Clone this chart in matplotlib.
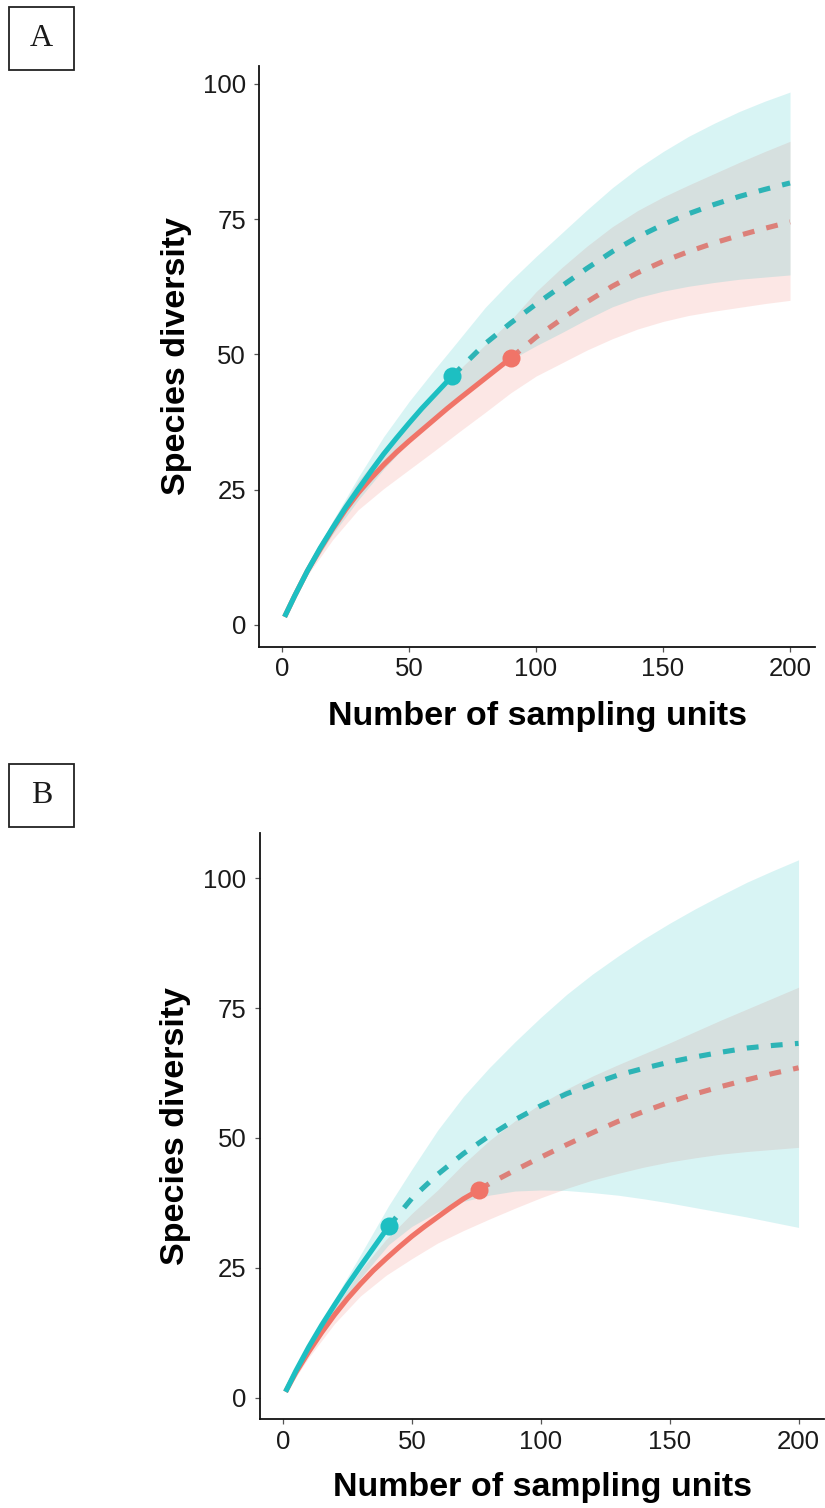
import matplotlib
matplotlib.use("Agg")
import matplotlib.pyplot as plt
from matplotlib.patches import Rectangle

###############################################################################
# data
###############################################################################

############
# panel A
############
a_blue_n_obs = [1, 5, 10, 15, 20, 25, 30, 35, 40, 45, 50, 55, 60, 67]
a_blue_s_obs = [1.5, 5.4, 10.0, 14.2, 18.0, 21.7, 25.1, 28.4, 31.6, 34.5,
                37.3, 40.0, 42.5, 46.0]
a_blue_n_ext = [67, 80, 90, 100, 110, 120, 130, 140, 150, 160, 170, 180,
                190, 200]
a_blue_s_ext = [46.0, 52.0, 55.8, 59.3, 62.6, 65.9, 69.0, 71.7, 74.0, 76.0,
                77.7, 79.2, 80.5, 81.7]
a_blue_band_n = [1, 10, 20, 30, 40, 50, 60, 67, 80, 90, 100, 110, 120, 130,
                 140, 150, 160, 170, 180, 190, 200]
a_blue_band_hi = [1.5, 10.5, 19.3, 27.3, 34.8, 41.3, 47.2, 51.2, 58.7, 63.6,
                  68.1, 72.4, 76.7, 80.8, 84.4, 87.5, 90.3, 92.7, 94.9, 96.8,
                  98.5]
a_blue_band_lo = [1.5, 9.5, 16.8, 23.1, 28.8, 33.8, 38.3, 41.4, 46.2, 49.0,
                  51.6, 54.0, 56.5, 58.8, 60.5, 61.7, 62.6, 63.3, 63.9, 64.3,
                  64.7]

a_red_n_obs = [1, 5, 10, 15, 20, 25, 30, 35, 40, 45, 50, 55, 60, 65, 70, 80,
               90]
a_red_s_obs = [1.5, 5.4, 10.0, 14.0, 17.8, 21.3, 24.4, 27.1, 29.6, 31.9,
               34.0, 36.0, 38.0, 40.0, 41.9, 45.6, 49.3]
a_red_n_ext = [90, 100, 110, 120, 130, 140, 150, 160, 170, 180, 190, 200]
a_red_s_ext = [49.3, 53.2, 56.5, 59.7, 62.6, 65.1, 67.2, 69.0, 70.6, 72.0,
               73.3, 74.5]
a_red_band_n = [1, 10, 20, 30, 40, 50, 60, 70, 80, 90, 100, 110, 120, 130,
                140, 150, 160, 170, 180, 190, 200]
a_red_band_hi = [1.5, 10.6, 19.2, 26.6, 32.4, 37.6, 42.5, 47.3, 51.8, 56.3,
                 61.6, 66.0, 70.0, 73.6, 76.6, 79.1, 81.3, 83.4, 85.5, 87.5,
                 89.4]
a_red_band_lo = [1.5, 9.2, 15.8, 21.3, 25.2, 28.7, 32.2, 35.8, 39.3, 42.9,
                 46.0, 48.4, 50.8, 52.9, 54.7, 56.1, 57.2, 58.0, 58.7, 59.4,
                 60.0]

############
# panel B
############
b_blue_n_obs = [1, 5, 10, 15, 20, 25, 30, 35, 41]
b_blue_s_obs = [1.2, 5.2, 9.8, 14.0, 17.9, 21.7, 25.3, 28.8, 33.0]
b_blue_n_ext = [41, 50, 60, 70, 80, 90, 100, 110, 120, 130, 140, 150, 160,
                170, 180, 190, 200]
b_blue_s_ext = [33.0, 38.4, 43.0, 47.0, 50.4, 53.5, 56.2, 58.5, 60.4, 62.1,
                63.4, 64.6, 65.6, 66.5, 67.3, 67.8, 68.2]
b_blue_band_n = [1, 10, 20, 30, 41, 50, 60, 70, 80, 90, 100, 110, 120, 130,
                 140, 150, 160, 170, 180, 190, 200]
b_blue_band_hi = [1.2, 10.3, 19.0, 27.5, 37.0, 44.0, 51.5, 58.0, 63.5, 68.5,
                  73.2, 77.6, 81.5, 85.0, 88.3, 91.3, 94.1, 96.7, 99.2, 101.4,
                  103.5]
b_blue_band_lo = [1.0, 9.2, 16.6, 23.0, 29.5, 33.0, 35.8, 37.8, 39.0, 39.8,
                  40.0, 39.9, 39.5, 39.0, 38.3, 37.5, 36.6, 35.7, 34.8, 33.8,
                  32.8]

b_red_n_obs = [1, 5, 10, 15, 20, 25, 30, 35, 40, 45, 50, 55, 60, 65, 70, 76]
b_red_s_obs = [1.2, 4.9, 8.9, 12.6, 16.0, 19.1, 21.9, 24.5, 26.8, 29.0,
               31.1, 33.0, 34.8, 36.6, 38.3, 40.0]
b_red_n_ext = [76, 80, 90, 100, 110, 120, 130, 140, 150, 160, 170, 180, 190,
               200]
b_red_s_ext = [40.0, 41.2, 43.8, 46.3, 48.7, 51.0, 53.2, 55.1, 56.9, 58.5,
               59.9, 61.2, 62.4, 63.5]
b_red_band_n = [1, 10, 20, 30, 40, 50, 60, 70, 80, 90, 100, 110, 120, 130,
                140, 150, 160, 170, 180, 190, 200]
b_red_band_hi = [1.2, 9.4, 17.3, 24.5, 30.5, 35.5, 40.0, 45.0, 49.5, 53.3,
                 56.6, 59.4, 61.9, 64.1, 66.2, 68.3, 70.5, 72.7, 74.8, 76.9,
                 79.0]
b_red_band_lo = [1.0, 7.8, 14.3, 19.6, 23.6, 26.8, 29.8, 32.2, 34.4, 36.5,
                 38.5, 40.3, 41.9, 43.2, 44.4, 45.4, 46.2, 46.9, 47.4, 47.8,
                 48.2]

x_ticks = [0, 50, 100, 150, 200]
y_ticks = [0, 25, 50, 75, 100]

###############################################################################
# some default parameters
###############################################################################
BLUE = "#1dbfc2"
BLUE_DASH = "#2db4b6"
RED = "#f07468"
RED_DASH = "#dc8079"
BAND_ALPHA = 0.17
LW = 3.7

plt.rcParams["font.family"] = ["Liberation Sans", "DejaVu Sans"]


###############################################################################
# plot functions
###############################################################################
def draw_group(ax, n_obs, s_obs, n_ext, s_ext, band_n, band_lo, band_hi,
               color, dash_color):
    ax.fill_between(band_n, band_lo, band_hi, color=color, alpha=BAND_ALPHA,
                    linewidth=0)
    ax.plot(n_ext, s_ext, color=dash_color, lw=LW, dashes=(2.3, 2.4),
            solid_capstyle="butt", zorder=3)
    ax.plot(n_obs, s_obs, color=color, lw=LW, solid_capstyle="butt",
            solid_joinstyle="round", zorder=4)
    ax.plot(n_obs[-1], s_obs[-1], "o", color=color, ms=13, mew=0, zorder=5)


def style_axes(ax, ylim, label_y):
    ax.set_xlim(-8.95, 209.95)
    ax.set_ylim(*ylim)
    ax.set_xticks(x_ticks)
    ax.set_yticks(y_ticks)
    for side in ["top", "right"]:
        ax.spines[side].set_visible(False)
    for side in ["left", "bottom"]:
        ax.spines[side].set_linewidth(1.3)
        ax.spines[side].set_color("#111111")
    ax.tick_params(labelsize=18.5, length=3.6, width=0.9, color="#555555",
                   labelcolor="#1a1a1a")
    ax.tick_params(axis="y", pad=6)
    ax.tick_params(axis="x", pad=4)
    ax.set_xlabel("Number of sampling units", fontsize=24.5,
                  fontweight="bold", va="baseline")
    ax.xaxis.set_label_coords(0.5, label_y)
    ax.set_ylabel("Species diversity", fontsize=24.5, fontweight="bold")
    ax.yaxis.label.set_verticalalignment("center")
    ax.yaxis.set_label_coords(-0.149, 0.5)


def panel_letter(fig, letter, x0, y0):
    # box in pixel coordinates measured from top-left
    W, H = 825., 1508.
    rect = Rectangle((x0 / W, 1 - (y0 + 63) / H), 65 / W, 63 / H,
                     transform=fig.transFigure, fill=False, lw=1.3,
                     edgecolor="#222222")
    fig.patches.append(rect)
    fig.text((x0 + 32.5) / W, 1 - (y0 + 31.5) / H, letter,
             family="Liberation Serif", fontsize=23, ha="center",
             va="center", color="#1a1a1a")


def main():
    W, H = 825., 1508.
    fig = plt.figure(figsize=(8.25, 15.08), dpi=100)

    ax_a = fig.add_axes([259.3 / W, 1 - 646.6 / H, 556 / W, 580.5 / H])
    draw_group(ax_a, a_red_n_obs, a_red_s_obs, a_red_n_ext, a_red_s_ext,
               a_red_band_n, a_red_band_lo, a_red_band_hi, RED, RED_DASH)
    draw_group(ax_a, a_blue_n_obs, a_blue_s_obs, a_blue_n_ext, a_blue_s_ext,
               a_blue_band_n, a_blue_band_lo, a_blue_band_hi, BLUE, BLUE_DASH)
    style_axes(ax_a, (-4.0, 103.3), -0.135)

    ax_b = fig.add_axes([259.9 / W, 1 - 1419.3 / H, 564.3 / W, 586 / H])
    draw_group(ax_b, b_red_n_obs, b_red_s_obs, b_red_n_ext, b_red_s_ext,
               b_red_band_n, b_red_band_lo, b_red_band_hi, RED, RED_DASH)
    draw_group(ax_b, b_blue_n_obs, b_blue_s_obs, b_blue_n_ext, b_blue_s_ext,
               b_blue_band_n, b_blue_band_lo, b_blue_band_hi, BLUE, BLUE_DASH)
    style_axes(ax_b, (-4.1, 108.6), -0.131)

    panel_letter(fig, "A", 9, 7)
    panel_letter(fig, "B", 9, 764)

    fig.savefig("out.png", dpi=100)


if __name__ == '__main__':
    main()
